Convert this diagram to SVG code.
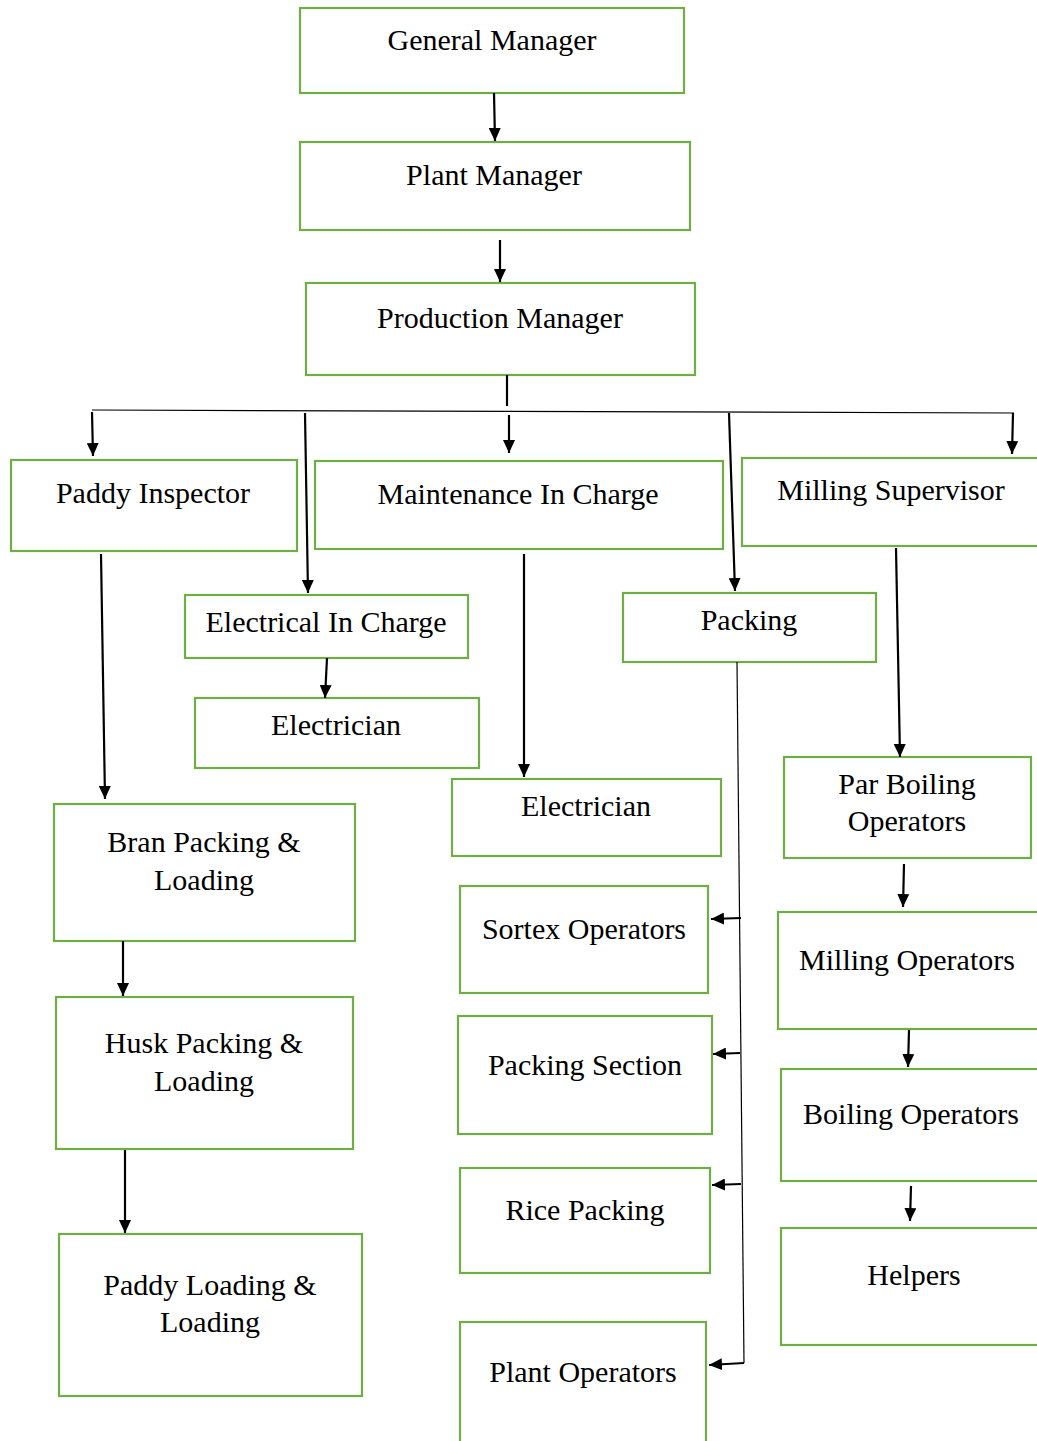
<svg xmlns="http://www.w3.org/2000/svg" width="1037" height="1441" viewBox="0 0 1037 1441">
<style>
.box{fill:#fff;stroke:#70AD47;stroke-width:2.2}
.t{font-family:"Liberation Serif","Times New Roman",serif;font-size:30px;fill:#000;text-anchor:middle}
.c{stroke:#000;stroke-width:2.2;fill:none}
.thin{stroke:#000;stroke-width:1.2;fill:none}
</style>
<defs>
<marker id="ah" viewBox="0 0 13 12" refX="13" refY="6" markerWidth="13" markerHeight="12" markerUnits="userSpaceOnUse" orient="auto">
<path d="M0,0 L13,6 L0,12 z" fill="#000"/>
</marker>
</defs>
<rect width="1037" height="1441" fill="#fff"/>
<g id="nodes">
<g id="general-manager"><rect class="box" x="300" y="8" width="384" height="85"/><text class="t" x="492" y="50">General Manager</text></g>
<g id="plant-manager"><rect class="box" x="300" y="142" width="390" height="88"/><text class="t" x="494" y="185">Plant Manager</text></g>
<g id="production-manager"><rect class="box" x="306" y="283" width="389" height="92"/><text class="t" x="500" y="328">Production Manager</text></g>
<g id="paddy-inspector"><rect class="box" x="11" y="460" width="286" height="91"/><text class="t" x="153" y="503">Paddy Inspector</text></g>
<g id="maintenance-in-charge"><rect class="box" x="315" y="461" width="408" height="88"/><text class="t" x="518" y="504">Maintenance In Charge</text></g>
<g id="milling-supervisor"><rect class="box" x="742" y="458" width="320" height="88"/><text class="t" x="891" y="500">Milling Supervisor</text></g>
<g id="electrical-in-charge"><rect class="box" x="185" y="595" width="283" height="63"/><text class="t" x="326" y="632">Electrical In Charge</text></g>
<g id="electrician-1"><rect class="box" x="195" y="698" width="284" height="70"/><text class="t" x="336" y="735">Electrician</text></g>
<g id="packing"><rect class="box" x="623" y="593" width="253" height="69"/><text class="t" x="749" y="630">Packing</text></g>
<g id="electrician-2"><rect class="box" x="452" y="779" width="269" height="77"/><text class="t" x="586" y="816">Electrician</text></g>
<g id="par-boiling-operators"><rect class="box" x="784" y="757" width="247" height="101"/><text class="t" x="907" y="794">Par Boiling</text><text class="t" x="907" y="831">Operators</text></g>
<g id="bran-packing"><rect class="box" x="54" y="804" width="301" height="137"/><text class="t" x="204" y="852">Bran Packing &amp;</text><text class="t" x="204" y="890">Loading</text></g>
<g id="husk-packing"><rect class="box" x="56" y="997" width="297" height="152"/><text class="t" x="204" y="1053">Husk Packing &amp;</text><text class="t" x="204" y="1091">Loading</text></g>
<g id="paddy-loading"><rect class="box" x="59" y="1234" width="303" height="162"/><text class="t" x="210" y="1295">Paddy Loading &amp;</text><text class="t" x="210" y="1332">Loading</text></g>
<g id="sortex-operators"><rect class="box" x="460" y="886" width="248" height="107"/><text class="t" x="584" y="939">Sortex Operators</text></g>
<g id="packing-section"><rect class="box" x="458" y="1016" width="254" height="118"/><text class="t" x="585" y="1075">Packing Section</text></g>
<g id="rice-packing"><rect class="box" x="460" y="1168" width="250" height="105"/><text class="t" x="585" y="1220">Rice Packing</text></g>
<g id="plant-operators"><rect class="box" x="460" y="1322" width="246" height="140"/><text class="t" x="583" y="1382">Plant Operators</text></g>
<g id="milling-operators"><rect class="box" x="778" y="912" width="284" height="117"/><text class="t" x="907" y="970">Milling Operators</text></g>
<g id="boiling-operators"><rect class="box" x="781" y="1069" width="284" height="112"/><text class="t" x="911" y="1124">Boiling Operators</text></g>
<g id="helpers"><rect class="box" x="781" y="1228" width="284" height="117"/><text class="t" x="914" y="1285">Helpers</text></g>
</g>
<g id="connectors">
<line class="c" x1="494" y1="93" x2="495" y2="141" marker-end="url(#ah)"/>
<line class="c" x1="500" y1="240" x2="500" y2="282" marker-end="url(#ah)"/>
<line class="c" x1="507" y1="375" x2="507" y2="406"/>
<line class="thin" x1="92" y1="410" x2="1014" y2="413"/>
<line class="c" x1="92" y1="412" x2="93" y2="456" marker-end="url(#ah)"/>
<line class="c" x1="305" y1="413" x2="308" y2="593" marker-end="url(#ah)"/>
<line class="c" x1="509" y1="415" x2="509" y2="453" marker-end="url(#ah)"/>
<line class="c" x1="729" y1="413" x2="735" y2="591" marker-end="url(#ah)"/>
<line class="c" x1="1013" y1="413" x2="1012" y2="454" marker-end="url(#ah)"/>
<line class="c" x1="101" y1="554" x2="105" y2="799" marker-end="url(#ah)"/>
<line class="c" x1="327" y1="658" x2="325" y2="698" marker-end="url(#ah)"/>
<line class="c" x1="524" y1="554" x2="524" y2="777" marker-end="url(#ah)"/>
<line class="c" x1="896" y1="548" x2="900" y2="757" marker-end="url(#ah)"/>
<line class="c" x1="904" y1="864" x2="903" y2="907" marker-end="url(#ah)"/>
<line class="c" x1="909" y1="1030" x2="908" y2="1067" marker-end="url(#ah)"/>
<line class="c" x1="911" y1="1186" x2="910" y2="1221" marker-end="url(#ah)"/>
<line class="c" x1="123" y1="941" x2="123" y2="996" marker-end="url(#ah)"/>
<line class="c" x1="125" y1="1150" x2="125" y2="1233" marker-end="url(#ah)"/>
<line class="thin" x1="737" y1="662" x2="744" y2="1363"/>
<line class="c" x1="741" y1="918" x2="711" y2="919" marker-end="url(#ah)"/>
<line class="c" x1="740" y1="1053" x2="713" y2="1054" marker-end="url(#ah)"/>
<line class="c" x1="741" y1="1184" x2="712" y2="1185" marker-end="url(#ah)"/>
<line class="c" x1="744" y1="1363" x2="709" y2="1365" marker-end="url(#ah)"/>
</g>
</svg>
